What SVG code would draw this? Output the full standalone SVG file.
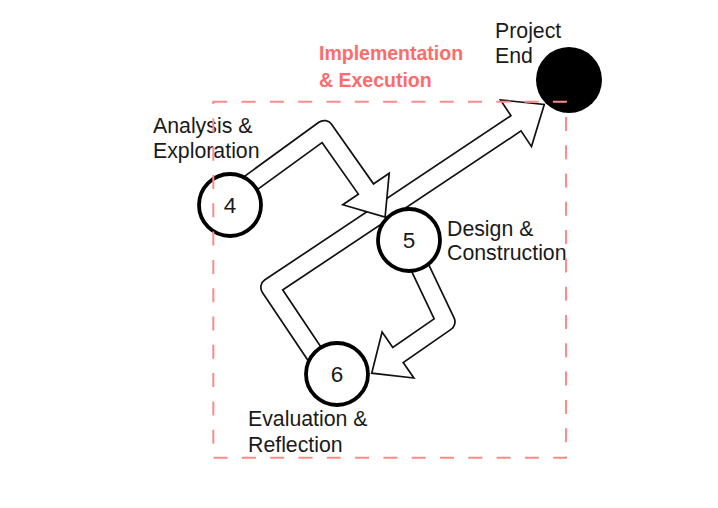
<svg xmlns="http://www.w3.org/2000/svg" width="718" height="508" viewBox="0 0 718 508">
  <style>
    .lbl { font-family: "Liberation Sans", Arial, sans-serif; font-size: 21.3px; fill: #1a1a1a; }
    .num { font-family: "Liberation Sans", Arial, sans-serif; font-size: 22.5px; fill: #1a1a1a; text-anchor: middle; }
    .grp { font-family: "Liberation Sans", Arial, sans-serif; font-size: 19.5px; font-weight: bold; fill: #ff6b6b; }
    .shaft-o { fill: none; stroke: #111; stroke-width: 20; stroke-linejoin: round; stroke-linecap: butt; }
    .shaft-i { fill: none; stroke: #fff; stroke-width: 16.6; stroke-linejoin: round; stroke-linecap: butt; }
    .head { fill: #fff; stroke: #111; stroke-width: 1.7; stroke-linejoin: miter; }
    .node { fill: #fff; stroke: #000; stroke-width: 3.8; }
    .frame { fill: none; stroke: #ff8a8a; stroke-width: 2; stroke-dasharray: 14 14.3; }
  </style>
  <rect width="718" height="508" fill="#fff"/>
  <g id="connectors">
    <g id="edge-6-end">
      <polyline class="shaft-o" points="322.7,366 270,287.4 516,123.3"/>
      <polygon class="head" points="531.5,146.6 544.3,104.4 500.5,100.0"/>
      <polyline class="shaft-i" points="322.7,366 270,287.4 517.7,122.2"/>
    </g>
    <g id="edge-4-5">
      <polyline class="shaft-o" points="243.3,188.5 324.2,129.7 366,189"/>
      <polygon class="head" points="389.2,173.3 385.1,217.1 342.8,204.7"/>
      <polyline class="shaft-i" points="243.3,188.5 324.2,129.7 367.1,190.7"/>
    </g>
    <g id="edge-5-6">
      <polyline class="shaft-o" points="413.6,254.2 445.8,321.9 398,355"/>
      <polygon class="head" points="413.9,378.0 371.7,373.2 382.1,332.0"/>
      <polyline class="shaft-i" points="413.6,254.2 445.8,321.9 396.4,356.1"/>
    </g>
  </g>
  <g id="node-4">
    <circle class="node" cx="230" cy="205" r="31"/>
    <text class="num" x="230" y="213">4</text>
    <text class="lbl" x="153" y="133">Analysis &amp;</text>
    <text class="lbl" x="153" y="158">Exploration</text>
  </g>
  <g id="node-5">
    <circle class="node" cx="409" cy="240" r="31"/>
    <text class="num" x="409" y="248">5</text>
    <text class="lbl" x="447" y="236">Design &amp;</text>
    <text class="lbl" x="447" y="260">Construction</text>
  </g>
  <g id="node-6">
    <circle class="node" cx="337" cy="374" r="31"/>
    <text class="num" x="337" y="382">6</text>
    <text class="lbl" x="248" y="426">Evaluation &amp;</text>
    <text class="lbl" x="248" y="452">Reflection</text>
  </g>
  <g id="node-end">
    <circle cx="569" cy="80" r="33" fill="#000"/>
    <text class="lbl" x="495" y="38">Project</text>
    <text class="lbl" x="495" y="63">End</text>
  </g>
  <g id="group-implementation">
    <rect class="frame" x="213.3" y="101.7" width="352.7" height="356"/>
    <text class="grp" x="319" y="60">Implementation</text>
    <text class="grp" x="319" y="87">&amp; Execution</text>
  </g>
</svg>
